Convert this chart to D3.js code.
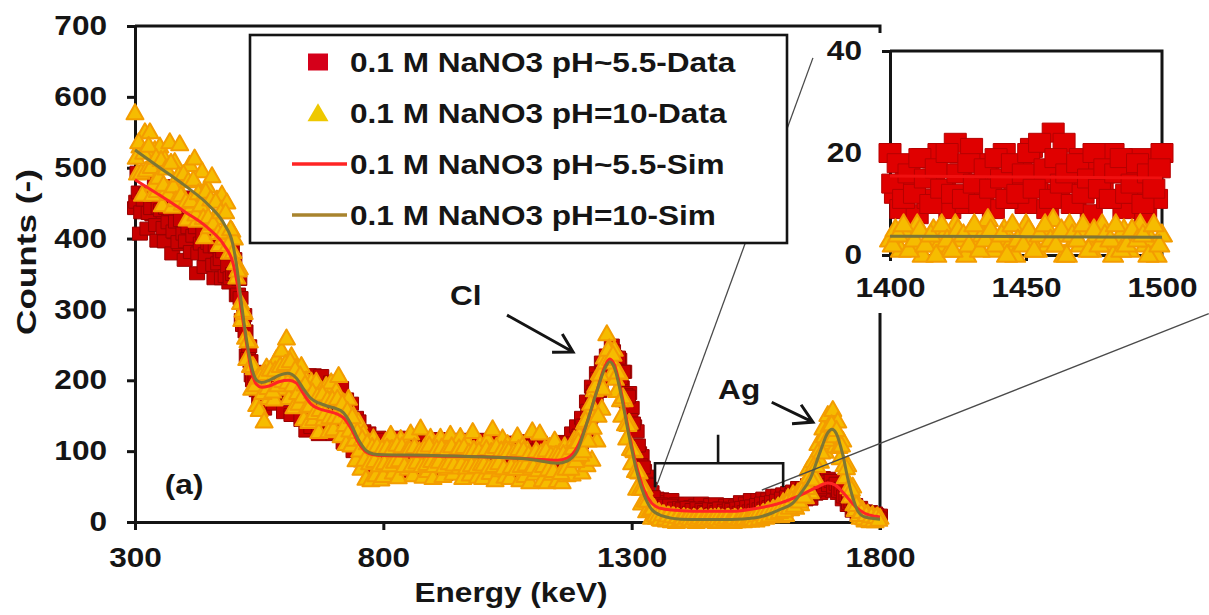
<!DOCTYPE html>
<html>
<head>
<meta charset="utf-8">
<script src="https://cdn.jsdelivr.net/npm/d3@7"></script>
<style>
  html, body { margin: 0; padding: 0; background: #fff; }
  svg { display: block; }
  text { font-family: "Liberation Sans", Arial, sans-serif; font-weight: bold; fill: #151515; }
</style>
</head>
<body>
<svg id="chart" width="1209" height="615"></svg>
<script>
// ---- data ----
const dataEnergy = d3.range(300, 1801, 5);    // keV, readings on the 5 keV grid
const midEnergy = d3.range(302.5, 1800, 5);   // keV, readings half way between

// 0.1 M NaNO3 pH~5.5 measured counts
const redData = [
  443, 493, 407, 458, 494, 414, 465, 434, 480, 397,
  436, 467, 396, 442, 474, 379, 409, 445, 392, 458,
  370, 415, 447, 385, 420, 351, 443, 390, 360, 420,
  378, 425, 344, 384, 408, 344, 365, 393, 338, 383,
  371, 320, 343, 285, 292, 235, 248, 207, 212, 186,
  167, 200, 160, 206, 180, 213, 167, 201, 178, 217,
  155, 212, 180, 151, 205, 164, 204, 144, 166, 129,
  207, 134, 207, 150, 124, 206, 137, 191, 127, 197,
  124, 198, 141, 189, 112, 173, 117, 167, 100, 147,
  142, 87, 128, 84, 125, 74, 115, 85, 119, 76,
  116, 79, 102, 69, 112, 89, 119, 74, 106, 84,
  72, 109, 86, 117, 75, 98, 113, 68, 103, 81,
  111, 73, 117, 87, 104, 68, 100, 114, 77, 95,
  74, 116, 82, 107, 67, 112, 86, 102, 71, 116,
  79, 109, 69, 97, 115, 75, 103, 66, 110, 85,
  105, 70, 112, 80, 98, 66, 114, 75, 94, 107,
  69, 101, 80, 112, 72, 108, 62, 93, 109, 75,
  107, 77, 113, 74, 112, 98, 125, 96, 135, 122,
  147, 136, 170, 146, 191, 184, 210, 185, 225, 218,
  235, 216, 249, 233, 210, 229, 190, 212, 170, 182,
  161, 135, 128, 97, 93, 72, 64, 47, 42, 31,
  33, 12, 32, 11, 28, 5, 31, 10, 25, 5,
  22, 8, 26, 12, 21, 6, 23, 8, 26, 12,
  20, 6, 24, 10, 25, 8, 19, 5, 23, 13,
  24, 7, 22, 6, 28, 11, 26, 9, 31, 14,
  11, 31, 16, 33, 13, 32, 17, 37, 19, 37,
  18, 39, 22, 41, 21, 43, 27, 48, 28, 48,
  32, 52, 33, 56, 40, 60, 41, 62, 46, 61,
  58, 44, 58, 41, 50, 32, 42, 24, 32, 16,
  24, 10, 20, 7, 15, 6, 14, 5, 12, 5,
  9
];
const redDataMid = [
  452, 465, 437, 455, 463, 436, 443, 461, 419, 444,
  440, 415, 443, 423, 442, 410, 424, 395, 426, 407,
  396, 416, 381, 404, 416, 379, 393, 407, 378, 394,
  389, 363, 389, 365, 371, 382, 347, 361, 344, 350,
  353, 321, 316, 278, 269, 230, 227, 200, 201, 188,
  181, 198, 175, 196, 184, 204, 183, 203, 193, 208,
  188, 205, 181, 206, 185, 195, 170, 189, 165, 181,
  175, 151, 176, 151, 170, 142, 174, 150, 165, 144,
  165, 142, 165, 136, 153, 132, 144, 118, 134, 110,
  119, 97, 113, 88, 104, 89, 107, 86, 104, 89,
  86, 104, 82, 100, 89, 106, 84, 102, 88, 104,
  100, 84, 106, 87, 102, 81, 98, 85, 104, 89,
  83, 101, 87, 104, 80, 98, 84, 102, 88, 104,
  102, 86, 104, 82, 97, 80, 100, 86, 103, 83,
  97, 81, 103, 87, 100, 79, 96, 82, 101, 84,
  82, 101, 85, 100, 77, 95, 83, 101, 79, 93,
  99, 81, 100, 82, 96, 76, 97, 82, 93, 77,
  92, 79, 98, 83, 99, 90, 111, 97, 118, 112,
  136, 130, 157, 149, 178, 174, 202, 192, 219, 211,
  231, 218, 241, 219, 232, 203, 212, 179, 177, 144,
  139, 108, 108, 80, 77, 54, 52, 35, 35, 24,
  18, 25, 13, 23, 13, 23, 11, 19, 10, 20,
  18, 11, 20, 13, 17, 10, 19, 12, 17, 14,
  13, 18, 11, 17, 14, 19, 10, 16, 12, 18,
  17, 12, 19, 13, 20, 14, 21, 15, 22, 16,
  24, 18, 26, 19, 27, 21, 28, 22, 30, 24,
  33, 27, 35, 29, 38, 32, 41, 35, 44, 38,
  48, 41, 50, 44, 52, 46, 55, 49, 57, 52,
  58, 50, 54, 44, 47, 36, 38, 27, 29, 18,
  20, 13, 16, 10, 13, 8, 11, 6, 10, 5
];

// 0.1 M NaNO3 pH=10 measured counts
const yellowData = [
  577, 492, 530, 462, 550, 497, 550, 462, 525, 467,
  530, 447, 512, 470, 536, 445, 508, 474, 533, 449,
  485, 427, 504, 446, 513, 425, 463, 495, 402, 474,
  416, 488, 429, 455, 391, 462, 400, 451, 380, 411,
  400, 345, 358, 285, 295, 230, 255, 188, 217, 165,
  158, 207, 142, 218, 175, 216, 173, 230, 191, 242,
  188, 259, 175, 234, 162, 218, 167, 220, 145, 200,
  141, 198, 145, 198, 127, 186, 145, 192, 128, 197,
  131, 185, 206, 121, 169, 110, 174, 108, 150, 87,
  141, 75, 125, 61, 113, 59, 118, 66, 105, 60,
  65, 113, 83, 123, 70, 100, 63, 117, 87, 110,
  75, 125, 66, 104, 79, 132, 64, 106, 72, 119,
  62, 109, 83, 119, 65, 101, 75, 123, 68, 105,
  77, 120, 62, 97, 112, 67, 127, 80, 64, 110,
  62, 102, 116, 69, 131, 59, 105, 73, 118, 64,
  110, 62, 98, 75, 121, 59, 107, 65, 101, 56,
  128, 68, 98, 125, 59, 102, 56, 106, 68, 115,
  58, 98, 56, 107, 66, 98, 67, 116, 85, 122,
  70, 140, 80, 156, 88, 186, 115, 210, 160, 232,
  265, 245, 209, 243, 185, 210, 150, 172, 118, 140,
  83, 100, 47, 70, 26, 48, 15, 31, 6, 20,
  6, 14, 3, 11, 2, 9, 1, 8, 0, 6,
  3, 7, 1, 5, 2, 6, 0, 4, 7, 2,
  5, 1, 6, 3, 0, 7, 2, 4, 1, 6,
  3, 0, 5, 2, 7, 1, 4, 6, 2, 5,
  2, 10, 4, 13, 6, 16, 8, 19, 11, 22,
  8, 28, 10, 34, 18, 39, 20, 42, 25, 50,
  35, 74, 42, 86, 62, 110, 85, 132, 99, 151,
  112, 158, 107, 142, 90, 115, 63, 80, 36, 50,
  17, 26, 6, 17, 2, 12, 1, 10, 1, 8,
  6
];
const yellowDataMid = [
  514, 536, 493, 521, 496, 531, 501, 476, 514, 486,
  511, 476, 499, 463, 507, 474, 454, 489, 461, 491,
  452, 481, 453, 483, 434, 464, 447, 429, 466, 430,
  455, 421, 452, 408, 437, 409, 437, 391, 413, 381,
  365, 355, 309, 298, 260, 255, 220, 220, 193, 204,
  205, 182, 209, 189, 215, 184, 214, 193, 220, 199,
  223, 197, 227, 193, 215, 182, 207, 177, 194, 163,
  164, 183, 154, 177, 158, 180, 152, 173, 148, 173,
  148, 174, 147, 167, 137, 157, 129, 148, 116, 127,
  101, 117, 88, 111, 83, 106, 86, 107, 80, 103,
  83, 105, 80, 103, 85, 109, 87, 107, 79, 101,
  102, 80, 106, 84, 100, 79, 104, 82, 108, 86,
  79, 103, 85, 105, 78, 101, 83, 107, 81, 99,
  104, 82, 106, 77, 98, 80, 102, 78, 100, 82,
  81, 103, 77, 99, 79, 106, 83, 101, 76, 102,
  100, 78, 98, 75, 103, 79, 101, 81, 95, 75,
  78, 100, 73, 97, 79, 101, 74, 94, 72, 95,
  93, 69, 96, 75, 95, 75, 104, 86, 113, 95,
  100, 143, 115, 167, 133, 192, 150, 208, 188, 225,
  243, 230, 236, 202, 211, 172, 176, 138, 137, 103,
  102, 72, 71, 47, 47, 30, 30, 17, 19, 10,
  8, 4, 11, 5, 9, 3, 8, 2, 7, 3,
  5, 2, 6, 4, 1, 5, 3, 6, 2, 4,
  2, 5, 3, 6, 4, 1, 5, 3, 6, 2,
  4, 6, 1, 4, 3, 5, 2, 4, 5, 3,
  9, 5, 11, 7, 14, 9, 16, 12, 19, 14,
  23, 16, 27, 20, 31, 23, 36, 29, 44, 36,
  48, 64, 60, 80, 79, 101, 98, 121, 116, 136,
  138, 121, 130, 106, 108, 80, 76, 49, 46, 25,
  24, 10, 14, 5, 10, 3, 8, 2, 7, 3
];

// simulated spectra
const simRedEnergy = [300, 350, 400, 450, 480, 497, 505, 515, 525, 535, 545, 555, 570, 590, 610, 625, 640, 655, 670, 690,
  705, 720, 735, 750, 765, 780, 800, 900, 1000, 1100, 1150, 1170, 1190, 1210, 1230, 1245, 1256, 1265, 1280, 1295,
  1310, 1325, 1340, 1360, 1400, 1450, 1500, 1550, 1600, 1640, 1670, 1695, 1710, 1730, 1750, 1770, 1790, 1800];
const simRedCounts = [483, 461, 438, 413, 390, 366, 340, 295, 250, 212, 194, 190, 192, 198, 200, 196, 180, 166, 160, 156,
  153, 147, 132, 112, 99, 95, 94, 93, 92, 89, 87, 90, 105, 140, 185, 218, 230, 222, 180, 125,
  78, 45, 27, 19, 16, 15, 15, 19, 27, 38, 48, 55, 52, 38, 22, 12, 8, 7];

const simOliveEnergy = [300, 350, 400, 450, 480, 497, 505, 515, 525, 535, 545, 555, 570, 590, 607, 625, 640, 655, 670, 690,
  705, 720, 735, 750, 765, 780, 800, 900, 1000, 1100, 1150, 1170, 1190, 1210, 1230, 1245, 1256, 1265, 1280, 1295,
  1310, 1325, 1340, 1360, 1400, 1450, 1500, 1550, 1580, 1600, 1625, 1640, 1660, 1680, 1695, 1703, 1712, 1725, 1735, 1745,
  1755, 1770, 1800];
const simOliveCounts = [525, 500, 475, 446, 420, 392, 360, 305, 255, 218, 200, 197, 200, 207, 210, 203, 187, 174, 168, 163,
  160, 154, 138, 116, 101, 96, 95, 94, 92, 88, 83, 86, 100, 140, 185, 215, 226, 218, 175, 120,
  72, 38, 18, 9, 4, 3.6, 3.5, 6, 12, 18, 27, 40, 62, 100, 126, 131, 125, 95, 62, 35,
  16, 7, 4];

// inset 1400-1500 keV
const insetEnergy = d3.range(1400, 1501, 2);
const insetMidEnergy = d3.range(1401, 1500, 2);
const insetRed = [20, 12, 9, 17, 14, 8, 19, 11, 15, 20, 13, 9, 22, 16, 10, 21, 14, 12, 18, 9,
  15, 20, 11, 13, 17, 10, 21, 14, 16, 9, 24, 12, 22, 15, 10, 19, 13, 8, 18, 14,
  11, 20, 16, 9, 17, 12, 19, 8, 15, 11, 20];
const insetRedMid = [14, 18, 11, 16, 12, 19, 15, 10, 17, 13, 20, 12, 16, 11, 18, 14, 10, 17, 13, 19,
  15, 11, 18, 12, 16, 20, 13, 22, 17, 11, 19, 14, 16, 10, 18, 12, 15, 20, 13, 17,
  11, 16, 19, 12, 14, 18, 10, 16, 13, 17];
const insetYellow = [3, 5, 1, 4, 2, 6, 0, 3, 5, 2, 4, 1, 6, 3, 0, 5, 2, 4, 7, 1,
  3, 5, 2, 0, 4, 6, 3, 1, 5, 2, 7, 4, 0, 6, 3, 2, 5, 1, 4, 6,
  2, 0, 3, 5, 1, 4, 6, 2, 3, 0, 4];
const insetYellowMid = [2, 4, 6, 1, 3, 5, 2, 4, 0, 6, 3, 1, 5, 4, 2, 6, 1, 3, 5, 2,
  4, 0, 6, 3, 2, 5, 1, 4, 6, 3, 2, 5, 0, 4, 3, 6, 1, 5, 2, 4,
  3, 6, 1, 2, 5, 3, 4, 0, 6, 2];
const insetSimEnergy = [1400, 1450, 1500];
const insetSimRed = [15.5, 15.3, 15.1];
const insetSimOlive = [3.7, 3.6, 3.5];

const xTicks = [300, 800, 1300, 1800];
const yTicks = [0, 100, 200, 300, 400, 500, 600, 700];
const insetXTicks = [1400, 1450, 1500];
const insetYTicks = [0, 20, 40];

const legendLabels = [
  "0.1 M NaNO3 pH~5.5-Data",
  "0.1 M NaNO3 pH=10-Data",
  "0.1 M NaNO3 pH~5.5-Sim",
  "0.1 M NaNO3 pH=10-Sim"
];

// ---- drawing ----
const SX = 1.17;        // the figure is stretched sideways, text too
const FONT = 27;
const INK = "#141414";
const RED_FILL = "#C80000", RED_EDGE = "#980000";
const YEL_FILL = "#F6BC00", YEL_EDGE = "#F39C00";
const SIM_RED = "#FF2424", SIM_OLIVE = "#7E7634";

const svg = d3.select("#chart");
const x = d3.scaleLinear().domain([300, 1800]).range([135, 880]);
const y = d3.scaleLinear().domain([0, 700]).range([522, 26]);

function label(g, px, py, str, anchor) {
  return g.append("text")
    .attr("transform", `translate(${px},${py}) scale(${SX},1)`)
    .attr("text-anchor", anchor || "start")
    .attr("font-size", FONT)
    .text(str);
}

function styleAxis(g) {
  g.attr("font-size", FONT).attr("font-family", null);
  g.select(".domain").attr("stroke", INK).attr("stroke-width", 3);
  g.selectAll(".tick line").attr("stroke", INK).attr("stroke-width", 3);
  g.selectAll(".tick text").each(function () {
    const t = d3.select(this);
    t.attr("x", (+t.attr("x") || 0) / SX).attr("transform", `scale(${SX},1)`);
  });
}

const sq = (w, h) => `M${-w / 2},${-h / 2}h${w}v${h}h${-w}Z`;
const tri = (w, h) => `M0,${-h * 0.6}L${w / 2},${h * 0.4}L${-w / 2},${h * 0.4}Z`;
const pairs = (es, cs) => es.map((e, i) => ({ e, c: cs[i] }));

// main axes + frame
const axesG = svg.append("g");
axesG.append("g").attr("transform", "translate(0,522)")
  .call(d3.axisBottom(x).tickValues(xTicks).tickFormat(d3.format("d")).tickSize(8).tickPadding(18).tickSizeOuter(0))
  .call(styleAxis);
axesG.append("g").attr("transform", "translate(135,0)")
  .call(d3.axisLeft(y).tickValues(yTicks).tickSize(8).tickPadding(20).tickSizeOuter(0))
  .call(styleAxis);
axesG.append("path")
  .attr("d", `M${x(300)},${y(700)}H${x(1800)}V${y(0) + 8}`)
  .attr("fill", "none").attr("stroke", INK).attr("stroke-width", 3);

// measured data
const plot = svg.append("g");
function squares(g, pts, sx, sy, w, h, fill, edge) {
  g.append("g").selectAll("path").data(pts).join("path")
    .attr("d", sq(w, h))
    .attr("transform", d => `translate(${sx(d.e)},${sy(d.c)})`)
    .attr("fill", fill).attr("stroke", edge).attr("stroke-width", 1);
}
function triangles(g, pts, sx, sy, w, h) {
  g.append("g").selectAll("path").data(pts).join("path")
    .attr("d", tri(w, h))
    .attr("transform", d => `translate(${sx(d.e)},${sy(d.c)})`)
    .attr("fill", YEL_FILL).attr("stroke", YEL_EDGE).attr("stroke-width", 2).attr("stroke-linejoin", "round");
}
squares(plot, pairs(dataEnergy, redData).concat(pairs(midEnergy, redDataMid)), x, y, 15, 13, RED_FILL, RED_EDGE);
triangles(plot, pairs(dataEnergy, yellowData).concat(pairs(midEnergy, yellowDataMid)), x, y, 17, 15);

// simulation lines
const line = d3.line().x(d => x(d[0])).y(d => y(d[1])).curve(d3.curveMonotoneX);
plot.append("path").datum(d3.zip(simRedEnergy, simRedCounts))
  .attr("d", line).attr("fill", "none").attr("stroke", SIM_RED).attr("stroke-width", 3);
plot.append("path").datum(d3.zip(simOliveEnergy, simOliveCounts))
  .attr("d", line).attr("fill", "none").attr("stroke", SIM_OLIVE).attr("stroke-width", 3);

// zoom guide lines and bracket (positions in data units)
const guides = [
  [[1347, 45], [1665, 655]],
  [[1562, 45], [2462, 294]]
];
svg.append("g").selectAll("line").data(guides).join("line")
  .attr("x1", d => x(d[0][0])).attr("y1", d => y(d[0][1]))
  .attr("x2", d => x(d[1][0])).attr("y2", d => y(d[1][1]))
  .attr("stroke", "#4a4a4a").attr("stroke-width", 1.3);

const bracket = { left: 1347, right: 1605, mid: 1474, top: 83, foot: 49, tip: 123 };
svg.append("path")
  .attr("d", `M${x(bracket.left)},${y(bracket.foot)}V${y(bracket.top)}H${x(bracket.right)}V${y(bracket.foot)}` +
    `M${x(bracket.mid)},${y(bracket.top)}V${y(bracket.tip)}`)
  .attr("fill", "none").attr("stroke", INK).attr("stroke-width", 2.6);

// peak annotations
function arrow(g, e1, c1, e2, c2) {
  const x1 = x(e1), y1 = y(c1), x2 = x(e2), y2 = y(c2);
  const a = Math.atan2(y1 - y2, x1 - x2), L = 21, s = Math.PI / 6;
  g.append("path")
    .attr("d", `M${x1},${y1}L${x2},${y2}M${x2 + L * Math.cos(a - s)},${y2 + L * Math.sin(a - s)}` +
      `L${x2},${y2}L${x2 + L * Math.cos(a + s)},${y2 + L * Math.sin(a + s)}`)
    .attr("fill", "none").attr("stroke", INK).attr("stroke-width", 3).attr("stroke-linejoin", "miter");
}
const notes = svg.append("g");
label(notes, x(934), y(306), "Cl");
arrow(notes, 1049, 292, 1182, 240);
label(notes, x(1474), y(174), "Ag");
arrow(notes, 1582, 169, 1665, 141);
label(notes, x(360), y(40), "(a)");

// axis titles
label(svg, 511, 602, "Energy (keV)", "middle");
svg.append("text")
  .attr("transform", "translate(36,252) rotate(-90)")
  .attr("text-anchor", "middle")
  .attr("font-size", FONT)
  .attr("textLength", 166).attr("lengthAdjust", "spacingAndGlyphs")
  .text("Counts (-)");

// legend
const legend = svg.append("g");
legend.append("rect").attr("x", 250).attr("y", 35).attr("width", 537).attr("height", 208)
  .attr("fill", "#fff").attr("stroke", INK).attr("stroke-width", 2.6);
legendLabels.forEach((name, i) => {
  const cy = 62 + i * 51;
  if (i === 0) legend.append("path").attr("d", sq(20, 17)).attr("transform", `translate(318,${cy})`).attr("fill", "#D5001A");
  if (i === 1) legend.append("path").attr("d", tri(21, 18)).attr("transform", `translate(318,${cy + 1})`).attr("fill", "#EEC800");
  if (i === 2) legend.append("line").attr("x1", 292).attr("x2", 347).attr("y1", cy).attr("y2", cy).attr("stroke", SIM_RED).attr("stroke-width", 3.5);
  if (i === 3) legend.append("line").attr("x1", 292).attr("x2", 347).attr("y1", cy).attr("y2", cy).attr("stroke", "#A8842E").attr("stroke-width", 3.5);
  label(legend, 350, cy + 10, name);
});

// inset
const xi = d3.scaleLinear().domain([1400, 1500]).range([890, 1162]);
const yi = d3.scaleLinear().domain([0, 40]).range([255, 51]);
const inset = svg.append("g");
inset.append("rect").attr("x", 825).attr("y", 33).attr("width", 384).attr("height", 280).attr("fill", "#fff");
inset.append("g").attr("transform", "translate(0,255)")
  .call(d3.axisBottom(xi).tickValues(insetXTicks).tickFormat(d3.format("d")).tickSize(6).tickPadding(17).tickSizeOuter(0))
  .call(styleAxis);
inset.append("g").attr("transform", "translate(890,0)")
  .call(d3.axisLeft(yi).tickValues(insetYTicks).tickSize(8).tickPadding(20).tickSizeOuter(0))
  .call(styleAxis);
inset.append("path")
  .attr("d", `M${xi(1400)},${yi(40)}H${xi(1500)}V${yi(0)}`)
  .attr("fill", "none").attr("stroke", INK).attr("stroke-width", 3);
squares(inset, pairs(insetEnergy, insetRed).concat(pairs(insetMidEnergy, insetRedMid)), xi, yi, 22, 19, "#E00000", "#B50000");
triangles(inset, pairs(insetEnergy, insetYellow).concat(pairs(insetMidEnergy, insetYellowMid)), xi, yi, 20, 17);
const lineI = d3.line().x(d => xi(d[0])).y(d => yi(d[1]));
inset.append("path").datum(d3.zip(insetSimEnergy, insetSimRed))
  .attr("d", lineI).attr("fill", "none").attr("stroke", "#F01010").attr("stroke-width", 3);
inset.append("path").datum(d3.zip(insetSimEnergy, insetSimOlive))
  .attr("d", lineI).attr("fill", "none").attr("stroke", SIM_OLIVE).attr("stroke-width", 3);
</script>
</body>
</html>
